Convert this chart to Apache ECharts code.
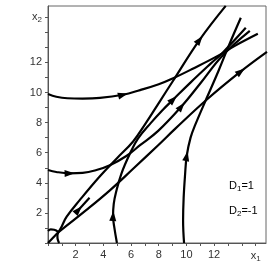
<!DOCTYPE html>
<html><head><meta charset="utf-8">
<script src="https://cdn.jsdelivr.net/npm/echarts@6/dist/echarts.min.js"></script>
<style>html,body{margin:0;padding:0;background:#fff}#c{width:273px;height:273px}</style>
</head><body><div id="c"></div>
<script>
// Trajectories (x1, x2)
const curveA = [[0,9.9],[0.6,9.72],[1.4,9.62],[2.5,9.6],[3.75,9.64],[5.42,9.85],[6.65,10.16],[8,10.55],[9,10.93],[10.5,11.6],[12.3,12.45],[13.5,13.1],[15.16,13.9]];
const curveB = [[0,4.85],[0.6,4.72],[1.56,4.63],[2.5,4.66],[3.5,4.85],[4.47,5.17],[5.69,5.8],[6.65,6.5],[7.96,7.45],[9.64,9.07],[11,10.6],[12.6,12.45],[14.58,14.1]];
const curveC = [[4.98,0],[4.78,1.1],[4.7,1.79],[4.75,2.6],[4.91,3.35],[5.3,4.6],[5.93,5.96],[6.51,6.95],[7.45,8.0],[8.25,8.81],[9.05,9.54],[10.29,10.66],[11.75,11.92],[12.62,12.65],[14.29,14.3]];
const curveD = [[9.83,0],[9.76,1.5],[9.8,3],[9.9,4.5],[10.02,5.78],[10.3,7.0],[10.65,7.88],[11.45,9.6],[12.3,11.4],[13.1,13.2],[13.93,14.97]];
const sepUpper = [[0.76,0.73],[1.0,1.12],[1.35,1.75],[2.29,2.85],[3.75,4.44],[5.0,5.65],[6.15,6.75],[7.02,7.9],[8.07,9.4],[8.98,10.7],[10.95,13.5],[12.84,15.76]];
const sepLower = [[0.76,0.73],[2.78,2.2],[4.47,3.5],[6.17,4.95],[7.96,6.5],[9.2,7.6],[11.5,9.55],[13.93,11.4],[15.82,12.7]];
const diagLow = [[0,0],[0.76,0.73]];
const diagStub = [[3.0,3.0],[2.2,2.2]];
const hookLeft = [[0,0.8],[0.2,0.9],[0.45,0.88],[0.76,0.73]];
const hookDown = [[0.76,0.73],[0.68,0.5],[0.7,0.25],[0.8,0]];
// arrows: [curve, index of point where arrow sits, index of point it points toward]
const arrows = [[curveA,5,6],[curveB,2,3],[curveB,9,10],[curveC,2,3],[curveC,10,11],[curveD,4,5],[sepUpper,10,11],[sepLower,7,8],[diagStub,1,0]];
const xTickLabels = {2:'2',4:'4',6:'6',8:'8',10:'10',12:'12',15:'{v|x}{s|1}'};
const yTickLabels = {2:'2',4:'4',6:'6',8:'8',10:'10',12:'12',15:'{v|x}{s|2}'};

const chart = echarts.init(document.getElementById('c'), null, {renderer:'canvas'});
const lineS = (d) => ({type:'line', data:d, smooth:0.4, showSymbol:false, symbol:'none',
  lineStyle:{color:'#000', width:2.2}, z:2, silent:true, animation:false});
const arrowData = arrows.map(a => [a[0][a[1]][0], a[0][a[1]][1], a[0][a[2]][0], a[0][a[2]][1]]);
const rich = {v:{fontSize:11, color:'#333', fontFamily:'Liberation Sans'}, s:{fontSize:8, color:'#333', fontFamily:'Liberation Sans', padding:[6,0,0,0]}};
chart.setOption({
  animation:false,
  grid:{left:48, top:6, right:7, bottom:30, show:true, borderColor:'#666', borderWidth:1},
  xAxis:{type:'value', min:0, max:15.75, interval:1,
    axisLine:{show:true, lineStyle:{color:'#555', width:1}},
    axisTick:{show:true, length:3, lineStyle:{color:'#555'}},
    splitLine:{show:false},
    axisLabel:{margin:6, color:'#333', fontSize:11, fontFamily:'Liberation Sans', showMaxLabel:false,
      formatter:v => xTickLabels[v] || '', rich:rich}},
  yAxis:{type:'value', min:0, max:15.75, interval:1,
    axisLine:{show:true, lineStyle:{color:'#555', width:1}},
    axisTick:{show:true, length:3, lineStyle:{color:'#555'}},
    splitLine:{show:false},
    axisLabel:{margin:6, color:'#333', fontSize:11, fontFamily:'Liberation Sans', showMaxLabel:false,
      formatter:v => yTickLabels[v] || '', rich:rich}},
  graphic:[
    {type:'text', left:229, top:180, style:{text:'{v|D}{s|1}{v|=1}', rich:rich}},
    {type:'text', left:229, top:205, style:{text:'{v|D}{s|2}{v|=-1}', rich:rich}}
  ],
  series:[
    lineS(curveA), lineS(curveB), lineS(curveC), lineS(curveD),
    lineS(sepUpper), lineS(sepLower), lineS(diagLow), lineS(diagStub), lineS(hookLeft), lineS(hookDown),
    {type:'custom', data:arrowData, z:5, silent:true, animation:false,
      renderItem:(params, api) => {
        const p = api.coord([api.value(0), api.value(1)]);
        const q = api.coord([api.value(2), api.value(3)]);
        const a = Math.atan2(q[1]-p[1], q[0]-p[0]);
        const L = 10, W = 3.5;
        const c = Math.cos(a), s = Math.sin(a);
        const tip = [p[0]+c*L/2, p[1]+s*L/2];
        const b = [p[0]-c*L/2, p[1]-s*L/2];
        return {type:'polygon', shape:{points:[tip,[b[0]-s*W, b[1]+c*W],[b[0]+s*W, b[1]-c*W]]}, style:{fill:'#000'}};
      }}
  ]
});
</script></body></html>
